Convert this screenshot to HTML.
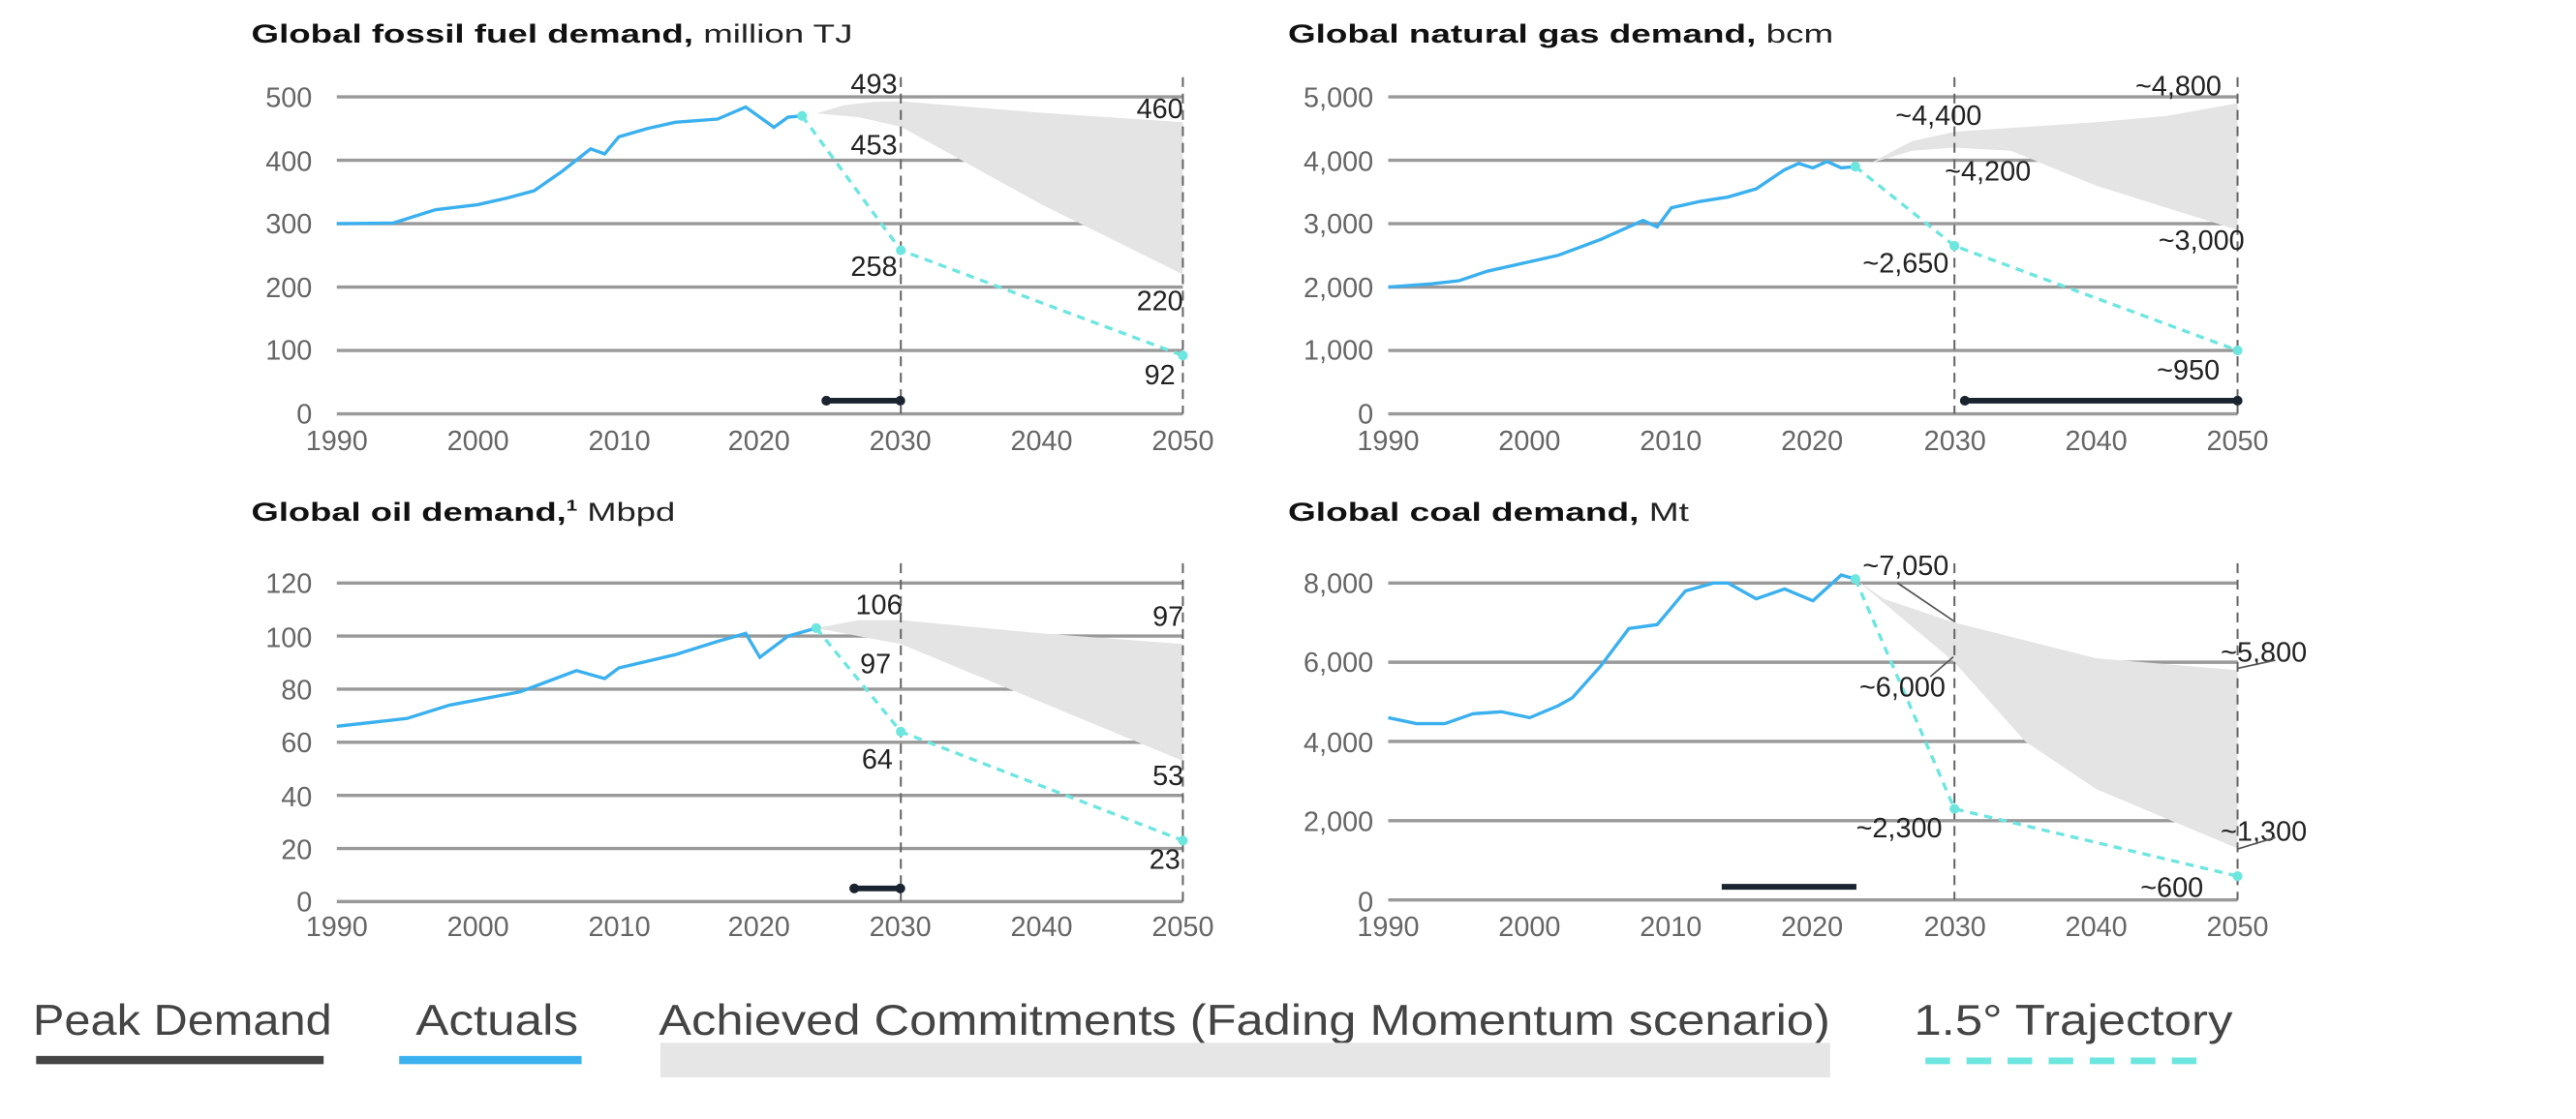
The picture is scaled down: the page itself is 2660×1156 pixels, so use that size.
<!DOCTYPE html>
<html><head><meta charset="utf-8">
<style>
html,body{margin:0;padding:0;background:#fff;}
svg{display:block;}
text{font-family:"Liberation Sans",sans-serif;}
.t{font-size:16px;font-weight:bold;fill:#111;}
.tn{font-weight:normal;fill:#222;}
.ax{font-size:17px;fill:#666;}
.lb{font-size:17px;fill:#222;}
.lg{font-size:26px;fill:#444;}
</style></head>
<body>
<svg id="s" width="2660" height="1156" viewBox="0 0 1568 681.4" preserveAspectRatio="none" xmlns="http://www.w3.org/2000/svg">
<g id="g"></g>
<!-- titles -->
<text class="t" x="153" y="26" textLength="366" lengthAdjust="spacingAndGlyphs">Global fossil fuel demand, <tspan class="tn">million TJ</tspan></text>
<text class="t" x="784" y="26" textLength="332" lengthAdjust="spacingAndGlyphs">Global natural gas demand, <tspan class="tn">bcm</tspan></text>
<text class="t" x="153" y="317" textLength="258" lengthAdjust="spacingAndGlyphs">Global oil demand,<tspan font-size="9" dy="-6">1</tspan><tspan class="tn" dy="6"> Mbpd</tspan></text>
<text class="t" x="784" y="317" textLength="244" lengthAdjust="spacingAndGlyphs">Global coal demand, <tspan class="tn">Mt</tspan></text>

<!-- y ticks -->
<g class="ax" text-anchor="end">
<text x="190" y="65">500</text><text x="190" y="104">400</text><text x="190" y="142">300</text><text x="190" y="181">200</text><text x="190" y="219">100</text><text x="190" y="258">0</text>
<text x="836" y="65">5,000</text><text x="836" y="104">4,000</text><text x="836" y="142">3,000</text><text x="836" y="181">2,000</text><text x="836" y="219">1,000</text><text x="836" y="258">0</text>
<text x="190" y="361">120</text><text x="190" y="394">100</text><text x="190" y="426">80</text><text x="190" y="458">60</text><text x="190" y="491">40</text><text x="190" y="523">20</text><text x="190" y="555">0</text>
<text x="836" y="361">8,000</text><text x="836" y="409">6,000</text><text x="836" y="458">4,000</text><text x="836" y="506">2,000</text><text x="836" y="555">0</text>
</g>
<!-- x ticks -->
<g class="ax" text-anchor="middle">
<text x="205" y="274">1990</text><text x="291" y="274">2000</text><text x="377" y="274">2010</text><text x="462" y="274">2020</text><text x="548" y="274">2030</text><text x="634" y="274">2040</text><text x="720" y="274">2050</text>
<text x="845" y="274">1990</text><text x="931" y="274">2000</text><text x="1017" y="274">2010</text><text x="1103" y="274">2020</text><text x="1190" y="274">2030</text><text x="1276" y="274">2040</text><text x="1362" y="274">2050</text>
<text x="205" y="570">1990</text><text x="291" y="570">2000</text><text x="377" y="570">2010</text><text x="462" y="570">2020</text><text x="548" y="570">2030</text><text x="634" y="570">2040</text><text x="720" y="570">2050</text>
<text x="845" y="570">1990</text><text x="931" y="570">2000</text><text x="1017" y="570">2010</text><text x="1103" y="570">2020</text><text x="1190" y="570">2030</text><text x="1276" y="570">2040</text><text x="1362" y="570">2050</text>
</g>
<!-- labels -->
<g class="lb" text-anchor="middle">
<text x="532" y="57">493</text><text x="532" y="94">453</text><text x="532" y="168">258</text>
<text x="706" y="72">460</text><text x="706" y="189">220</text><text x="706" y="234">92</text>
<text x="1180" y="76">~4,400</text><text x="1210" y="110">~4,200</text><text x="1160" y="166">~2,650</text>
<text x="1326" y="58">~4,800</text><text x="1340" y="152">~3,000</text><text x="1332" y="231">~950</text>
<text x="535" y="374">106</text><text x="533" y="410">97</text><text x="534" y="468">64</text>
<text x="711" y="381">97</text><text x="711" y="478">53</text><text x="709" y="529">23</text>
<text x="1160" y="350">~7,050</text><text x="1158" y="424">~6,000</text><text x="1156" y="510">~2,300</text>
<text x="1378" y="403">~5,800</text><text x="1378" y="512">~1,300</text><text x="1322" y="546">~600</text>
</g>
<g stroke="#555" stroke-width="1" fill="none">
<line x1="1155" y1="355" x2="1189" y2="378"/>
<line x1="1175" y1="412" x2="1189" y2="400"/>
<line x1="1362" y1="407" x2="1385" y2="402"/>
<line x1="1362" y1="517" x2="1385" y2="510"/>
</g>
<!-- legend -->
<g class="lg">
<text x="20" y="630" textLength="182" lengthAdjust="spacingAndGlyphs">Peak Demand</text>
<text x="253" y="630" textLength="99" lengthAdjust="spacingAndGlyphs">Actuals</text>
<text x="401" y="630" textLength="713" lengthAdjust="spacingAndGlyphs">Achieved Commitments (Fading Momentum scenario)</text>
<text x="1165" y="630" textLength="194" lengthAdjust="spacingAndGlyphs">1.5° Trajectory</text>
</g>
<rect x="22" y="643" width="175" height="5" fill="#444"/>
<rect x="243" y="643" width="111" height="5" fill="#3bb0ef"/>
<rect x="402" y="635" width="712" height="21" fill="#e6e6e6"/>
<line x1="1172" y1="646" x2="1347" y2="646" stroke="#6ee6e0" stroke-width="4" stroke-dasharray="15,10"/>
</svg>
<script>
var NS="http://www.w3.org/2000/svg",g=document.getElementById("g");
function el(t,a){var e=document.createElementNS(NS,t);for(var k in a)e.setAttribute(k,a[k]);g.appendChild(e);return e;}
function chart(x0,x1,y0,ymax,vmax,ticks,act,up,lo,tr,peak){
 var X=function(y){return x0+(y-1990)*(x1-x0)/60;},Y=function(v){return y0-(v/vmax)*(y0-ymax);};
 ticks.forEach(function(v){el("line",{x1:x0,x2:x1,y1:Y(v),y2:Y(v),stroke:"#999","stroke-width":2});});
 var d="M"+up.map(function(p){return X(p[0])+","+Y(p[1]);}).join("L")+"L"+lo.slice().reverse().map(function(p){return X(p[0])+","+Y(p[1]);}).join("L")+"Z";
 el("path",{d:d,fill:"#e4e4e4"});
 [2030,2050].forEach(function(yy){el("line",{x1:X(yy),x2:X(yy),y1:ymax-12,y2:y0,stroke:"#666","stroke-width":1.2,"stroke-dasharray":"6,4"});});
 el("polyline",{points:act.map(function(p){return X(p[0])+","+Y(p[1]);}).join(" "),fill:"none",stroke:"#3bb0ef","stroke-width":2});
 el("polyline",{points:tr.map(function(p){return X(p[0])+","+Y(p[1]);}).join(" "),fill:"none",stroke:"#6ee6e0","stroke-width":2,"stroke-dasharray":"5,4"});
 tr.forEach(function(p){el("circle",{cx:X(p[0]),cy:Y(p[1]),r:3,fill:"#6ee6e0"});});
 el("line",{x1:peak[0],x2:peak[1],y1:peak[2],y2:peak[2],stroke:"#1a2430","stroke-width":3.5});
 if(peak[3]){el("circle",{cx:peak[0],cy:peak[2],r:3,fill:"#1a2430"});el("circle",{cx:peak[1],cy:peak[2],r:3,fill:"#1a2430"});}
}
chart(205,720,252,59,500,[0,100,200,300,400,500],
 [[1990,300],[1994,301],[1997,322],[2000,330],[2002,340],[2004,352],[2006,383],[2008,418],[2009,410],[2010,437],[2012,450],[2014,460],[2017,465],[2019,484],[2021,452],[2022,468],[2023,470]],
 [[2024,474],[2026,487],[2028,492],[2030,493],[2040,475],[2050,460]],
 [[2024,474],[2027,468],[2030,453],[2040,330],[2050,220]],
 [[2023,470],[2030,258],[2050,92]],[503,548,244,true]);
chart(845,1362,252,59,5000,[0,1000,2000,3000,4000,5000],
 [[1990,2000],[1993,2050],[1995,2100],[1997,2250],[2000,2400],[2002,2500],[2005,2750],[2007,2950],[2008,3050],[2009,2950],[2010,3250],[2012,3350],[2014,3420],[2016,3550],[2018,3850],[2019,3950],[2020,3880],[2021,3980],[2022,3880],[2023,3900]],
 [[2024,3950],[2027,4300],[2030,4450],[2040,4600],[2045,4700],[2050,4900]],
 [[2024,3950],[2027,4150],[2030,4200],[2034,4150],[2040,3600],[2050,2900]],
 [[2023,3900],[2030,2650],[2050,1000]],[1196,1362,244,true]);
chart(205,720,549,355,120,[0,20,40,60,80,100,120],
 [[1990,66],[1995,69],[1998,74],[2000,76],[2003,79],[2005,83],[2007,87],[2009,84],[2010,88],[2014,93],[2017,98],[2019,101],[2020,92],[2022,100],[2024,103]],
 [[2024,103],[2027,106],[2030,106],[2040,101],[2050,97]],
 [[2024,103],[2027,100],[2030,97],[2040,75],[2050,53]],
 [[2024,103],[2030,64],[2050,23]],[520,548,541,true]);
chart(845,1362,548,355,8000,[0,2000,4000,6000,8000],
 [[1990,4600],[1992,4450],[1994,4450],[1996,4700],[1998,4750],[2000,4600],[2002,4900],[2003,5100],[2005,5900],[2007,6850],[2009,6950],[2011,7800],[2013,8000],[2014,8000],[2016,7600],[2018,7850],[2020,7550],[2022,8200],[2023,8100]],
 [[2023,8100],[2025,7600],[2030,7000],[2040,6100],[2050,5800]],
 [[2023,8100],[2030,6000],[2035,4000],[2040,2800],[2050,1300]],
 [[2023,8100],[2030,2300],[2050,600]],[1048,1130,540,false]);
</script>
</body></html>
